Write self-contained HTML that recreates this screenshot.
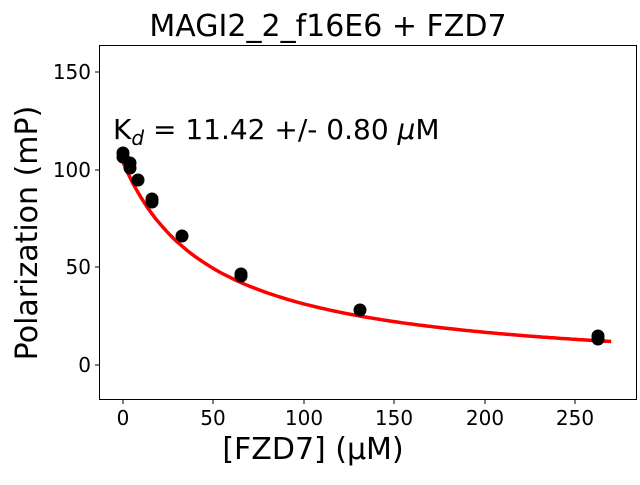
<!DOCTYPE html>
<html><head><meta charset="utf-8"><style>
body{margin:0;background:#fff;}
svg text{font-family:"DejaVu Sans","Liberation Sans",sans-serif;fill:#000;}
</style></head><body>
<svg id="s" width="640" height="480" viewBox="0 0 640 480" xmlns="http://www.w3.org/2000/svg">
<rect width="640" height="480" fill="#fff"/>
<text x="328" y="36" font-size="30" text-anchor="middle">MAGI2_2_f16E6 + FZD7</text>
<path id="curve" d="" fill="none" stroke="#ff0000" stroke-width="3.5"/>
<g id="pts" fill="#000"></g>
<rect x="99.5" y="45.5" width="537" height="354" fill="none" stroke="#000" stroke-width="1"/>
<g stroke="#000" stroke-width="1">
<line x1="95" x2="99" y1="72" y2="72"/><line x1="95" x2="99" y1="170" y2="170"/>
<line x1="95" x2="99" y1="267" y2="267"/><line x1="95" x2="99" y1="365" y2="365"/>
<line y1="400" y2="404" x1="123" x2="123"/><line y1="400" y2="404" x1="213" x2="213"/>
<line y1="400" y2="404" x1="304" x2="304"/><line y1="400" y2="404" x1="394" x2="394"/>
<line y1="400" y2="404" x1="485" x2="485"/><line y1="400" y2="404" x1="575" x2="575"/>
</g>
<g font-size="20" text-anchor="end">
<text x="91" y="79">150</text><text x="91" y="177">100</text>
<text x="91" y="274">50</text><text x="91" y="372">0</text>
</g>
<g font-size="20" text-anchor="middle">
<text x="123" y="425">0</text><text x="213" y="425">50</text><text x="304" y="425">100</text>
<text x="394" y="425">150</text><text x="485" y="425">200</text><text x="575" y="425">250</text>
</g>
<text x="313" y="459" font-size="30" text-anchor="middle">[FZD7] (μM)</text>
<text transform="translate(37,233) rotate(-90)" font-size="30" text-anchor="middle">Polarization (mP)</text>
<text x="113" y="139" font-size="28">K<tspan font-size="20" dy="6" font-style="italic">d</tspan><tspan dy="-6"> = 11.42 +/- 0.80 </tspan><tspan font-style="italic">μ</tspan>M</text>
</svg>
<script>
var d="";for(var i=0;i<=270;i+=2){var P=-5+109*50/(50+i);var px=123+i*1.808,py=365-P*1.95;d+=(i?"L":"M")+px.toFixed(1)+","+py.toFixed(1);}
document.getElementById("curve").setAttribute("d",d);
var pts=[[123,153],[123,157],[130,163],[130,168],[138,180],[152,199],[152,202],[182,236],[241,274],[241,276],[360,310],[598,336],[598,339]];
var g=document.getElementById("pts");
pts.forEach(function(p){var c=document.createElementNS("http://www.w3.org/2000/svg","ellipse");c.setAttribute("cx",p[0]);c.setAttribute("cy",p[1]);c.setAttribute("rx",6.5);c.setAttribute("ry",6.5);g.appendChild(c);});
</script>
</body></html>
